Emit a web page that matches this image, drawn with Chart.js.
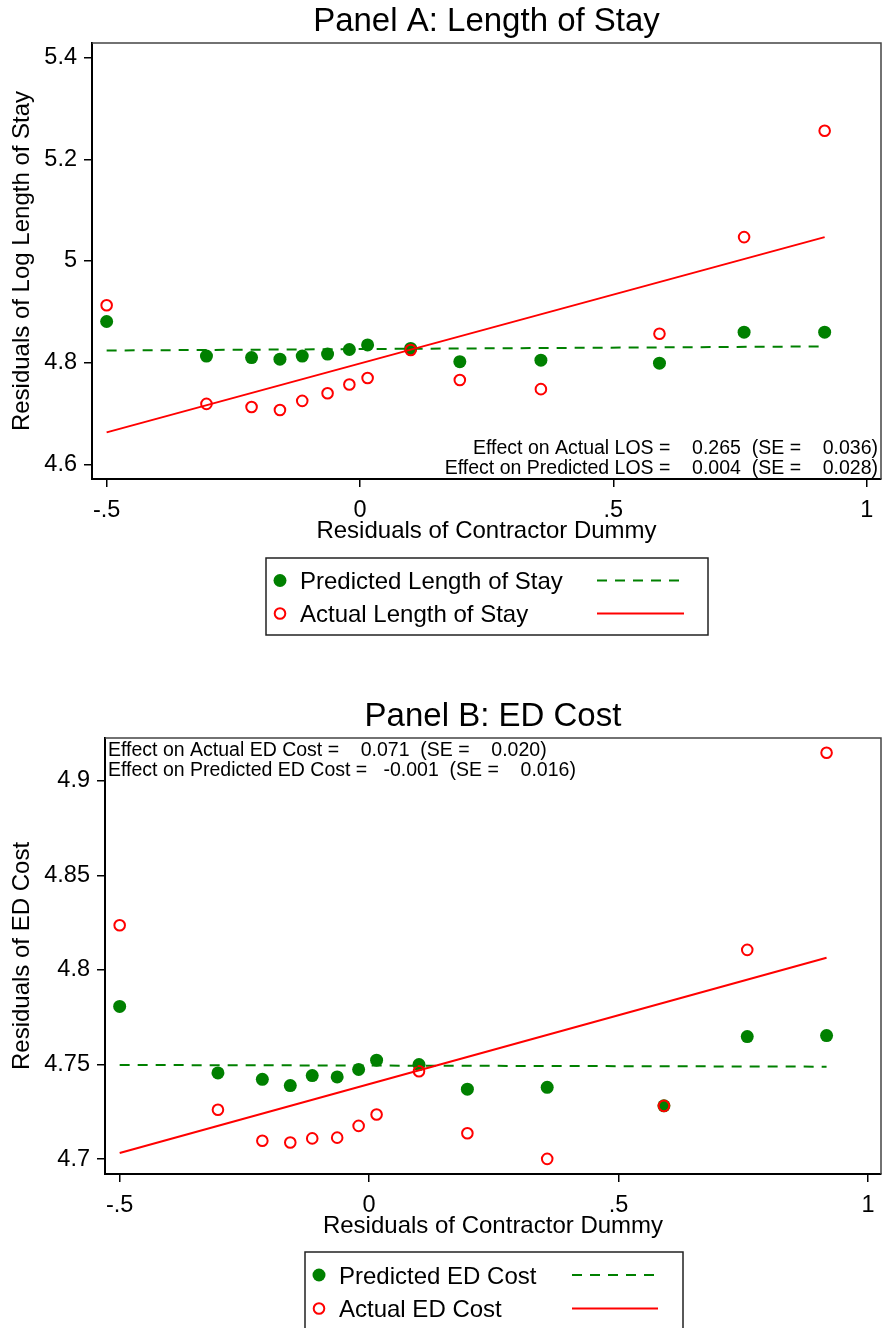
<!DOCTYPE html>
<html>
<head>
<meta charset="utf-8">
<script src="https://cdn.jsdelivr.net/npm/chart.js@4.4.0/dist/chart.umd.min.js"></script>
<style>
  body { margin: 0; background: #fff; }
  #page { position: relative; width: 882px; height: 1328px; overflow: hidden; font-family: "Liberation Sans", Arial, sans-serif; }
  canvas { position: absolute; left: 0; }
  svg.legend { position: absolute; left: 0; top: 0; }
</style>
</head>
<body>
<div id="page">
  <canvas id="panelA" width="882" height="550" style="top:0px"></canvas>
  <canvas id="panelB" width="882" height="550" style="top:695px"></canvas>
  <svg class="legend" id="legends" width="882" height="1328"></svg>
</div>
<script>
// binned residuals of the contractor dummy (shared by both panels)
const xBins = [-0.500, -0.303, -0.214, -0.158, -0.114, -0.064, -0.021, 0.015, 0.100, 0.197, 0.357, 0.591, 0.758, 0.917];

// Panel A: log length of stay
const predLos   = [4.881, 4.813, 4.810, 4.807, 4.813, 4.817, 4.826, 4.835, 4.828, 4.802, 4.805, 4.799, 4.860, 4.860];
const actualLos = [4.913, 4.719, 4.713, 4.707, 4.725, 4.740, 4.757, 4.770, 4.825, 4.766, 4.748, 4.857, 5.047, 5.256];

// Panel B: ED cost
const predCost   = [4.7807, 4.7456, 4.7422, 4.7389, 4.7442, 4.7435, 4.7474, 4.7523, 4.7500, 4.7370, 4.7380, 4.7282, 4.7648, 4.7653];
const actualCost = [4.8236, 4.7261, 4.7098, 4.7088, 4.7110, 4.7114, 4.7176, 4.7236, 4.7465, 4.7137, 4.7002, 4.7282, 4.8106, 4.9147];

// linear fit end points
const fitX = [-0.5, 0.917];
const predLosFit = [4.824, 4.832];
const actualLosFit = [4.663, 5.047];
const predCostFit = [4.7498, 4.7489];
const actualCostFit = [4.7033, 4.8064];

// ticks
const xTicks = [-0.5, 0, 0.5, 1];
const xTickLabels = ['-.5', '0', '.5', '1'];
const yTicksA = [4.6, 4.8, 5, 5.2, 5.4];
const yTickLabelsA = ['4.6', '4.8', '5', '5.2', '5.4'];
const yTicksB = [4.7, 4.75, 4.8, 4.85, 4.9];
const yTickLabelsB = ['4.7', '4.75', '4.8', '4.85', '4.9'];

const notesA = ['Effect on Actual LOS =    0.265  (SE =    0.036)',
                'Effect on Predicted LOS =    0.004  (SE =    0.028)'];
const notesB = ['Effect on Actual ED Cost =    0.071  (SE =    0.020)',
                'Effect on Predicted ED Cost =   -0.001  (SE =    0.016)'];

const GREEN = '#008000';
const RED = '#ff0000';
const FONT = '"Liberation Sans", Arial, sans-serif';
Chart.defaults.font.family = FONT;
Chart.defaults.color = '#000';

const toPts = (xs, ys) => xs.map((x, i) => ({ x: x, y: ys[i] }));

// top and right edges of the plot region
const framePlugin = {
  id: 'frame',
  afterDraw(chart) {
    const { ctx, chartArea: a } = chart;
    ctx.save();
    ctx.strokeStyle = '#444';
    ctx.lineWidth = 1.5;
    ctx.beginPath();
    ctx.moveTo(a.left, a.top);
    ctx.lineTo(a.right, a.top);
    ctx.lineTo(a.right, a.bottom);
    ctx.stroke();
    ctx.restore();
  }
};

function buildPanel(id, p) {
  const notePlugin = {
    id: 'notes',
    afterDraw(chart) {
      const { ctx, chartArea: a } = chart;
      ctx.save();
      ctx.font = '19.5px ' + FONT;
      ctx.fillStyle = '#000';
      ctx.textAlign = p.noteAlign;
      ctx.textBaseline = 'alphabetic';
      const x = p.noteAlign === 'right' ? a.right - 3 : a.left + 3;
      p.notes.forEach((t, i) => {
        const y = p.noteAlign === 'right' ? a.bottom - 25 + i * 19.5 : a.top + 17.7 + i * 20;
        ctx.fillText(t, x, y);
      });
      ctx.restore();
    }
  };

  return new Chart(document.getElementById(id), {
    type: 'scatter',
    data: {
      datasets: [
        { label: p.labels[0], data: toPts(xBins, p.pred), pointRadius: 6.5, backgroundColor: GREEN, borderWidth: 0, order: 4 },
        { label: p.labels[1], data: toPts(xBins, p.actual), pointRadius: 5.3, backgroundColor: 'rgba(0,0,0,0)', borderColor: RED, borderWidth: 2, order: 3 },
        { type: 'line', label: p.labels[0] + ' fit', data: toPts(fitX, p.predFit), borderColor: GREEN, borderWidth: 2, borderDash: [10, 8], pointRadius: 0, fill: false, tension: 0, order: 2 },
        { type: 'line', label: p.labels[1] + ' fit', data: toPts(fitX, p.actualFit), borderColor: RED, borderWidth: 2, pointRadius: 0, fill: false, tension: 0, order: 1 }
      ]
    },
    options: {
      responsive: false,
      animation: false,
      devicePixelRatio: 1,
      layout: { autoPadding: false, padding: { left: 0, right: 1, top: 0, bottom: 0 } },
      plugins: {
        legend: { display: false },
        tooltip: { enabled: false },
        title: {
          display: true, text: p.title, fullSize: false, color: '#000',
          font: { size: 33, weight: 'normal' }, padding: { top: 2, bottom: 1.4 }
        }
      },
      scales: {
        x: {
          type: 'linear', position: 'bottom', min: p.xMin, max: p.xMax,
          afterFit: s => { s.height = 71; s.paddingLeft = 0; s.paddingRight = 0; },
          afterBuildTicks: s => { s.ticks = xTicks.map(v => ({ value: v })); },
          ticks: { font: { size: 23.5 }, padding: 9, maxRotation: 0, autoSkip: false, callback: (v, i) => xTickLabels[i] },
          grid: { display: true, drawOnChartArea: false, drawTicks: true, tickLength: 8, color: '#000', lineWidth: 1.5 },
          border: { display: true, color: '#000', width: 2 },
          title: { display: true, text: 'Residuals of Contractor Dummy', font: { size: 24 }, padding: { top: 0, bottom: 4.6 } }
        },
        y: {
          type: 'linear', position: 'left', min: p.yMin, max: p.yMax,
          afterFit: s => { s.width = p.yWidth; s.paddingTop = 0; s.paddingBottom = 0; },
          afterBuildTicks: s => { s.ticks = p.yTicks.map(v => ({ value: v })); },
          ticks: { font: { size: 23.5 }, padding: 7, autoSkip: false, callback: (v, i) => p.yTickLabels[i] },
          grid: { display: true, drawOnChartArea: false, drawTicks: true, tickLength: 8, color: '#000', lineWidth: 1.5 },
          border: { display: true, color: '#000', width: 2 },
          title: { display: true, text: p.yTitle, font: { size: 24 }, padding: { top: 8, bottom: 0 } }
        }
      }
    },
    plugins: [framePlugin, notePlugin]
  });
}

const chartA = buildPanel('panelA', {
  title: 'Panel A: Length of Stay',
  yTitle: 'Residuals of Log Length of Stay',
  labels: ['Predicted Length of Stay', 'Actual Length of Stay'],
  pred: predLos, actual: actualLos, predFit: predLosFit, actualFit: actualLosFit,
  xMin: -0.5289, xMax: 1.0282, yMin: 4.5713, yMax: 5.4287, yWidth: 92,
  yTicks: yTicksA, yTickLabels: yTickLabelsA,
  notes: notesA, noteAlign: 'right'
});

const chartB = buildPanel('panelB', {
  title: 'Panel B: ED Cost',
  yTitle: 'Residuals of ED Cost',
  labels: ['Predicted ED Cost', 'Actual ED Cost'],
  pred: predCost, actual: actualCost, predFit: predCostFit, actualFit: actualCostFit,
  xMin: -0.5294, xMax: 1.0261, yMin: 4.6922, yMax: 4.9225, yWidth: 105,
  yTicks: yTicksB, yTickLabels: yTickLabelsB,
  notes: notesB, noteAlign: 'left'
});

// Stata-style legends under each panel
const svgNS = 'http://www.w3.org/2000/svg';
const svg = document.getElementById('legends');
function el(tag, attrs, text) {
  const e = document.createElementNS(svgNS, tag);
  Object.keys(attrs).forEach(k => e.setAttribute(k, attrs[k]));
  if (text) e.textContent = text;
  svg.appendChild(e);
  return e;
}
function makeLegend(chart, box, rows, markerX, textX, lineX1, lineX2) {
  el('rect', { x: box.x, y: box.y, width: box.w, height: box.h, fill: 'none', stroke: '#222', 'stroke-width': 1.5 });
  const ds = chart.data.datasets;
  rows.forEach((cy, i) => {
    const d = ds[i];
    if (i === 0) {
      el('circle', { cx: markerX, cy: cy, r: 6.5, fill: d.backgroundColor });
    } else {
      el('circle', { cx: markerX, cy: cy, r: 5.3, fill: 'none', stroke: d.borderColor, 'stroke-width': 2 });
    }
    el('text', { x: textX, y: cy + 8.5, 'font-size': 24, 'font-family': FONT, fill: '#000' }, d.label);
    const fit = ds[i + 2];
    const line = { x1: lineX1, y1: cy, x2: lineX2, y2: cy, stroke: fit.borderColor, 'stroke-width': 2 };
    if (fit.borderDash) line['stroke-dasharray'] = fit.borderDash.join(' ');
    el('line', line);
  });
}
makeLegend(chartA, { x: 266, y: 558, w: 442, h: 77 }, [580.5, 613.5], 280, 300, 597, 684);
makeLegend(chartB, { x: 305, y: 1252, w: 378, h: 110 }, [1275, 1308.5], 319, 339, 572, 658);
</script>
</body>
</html>
